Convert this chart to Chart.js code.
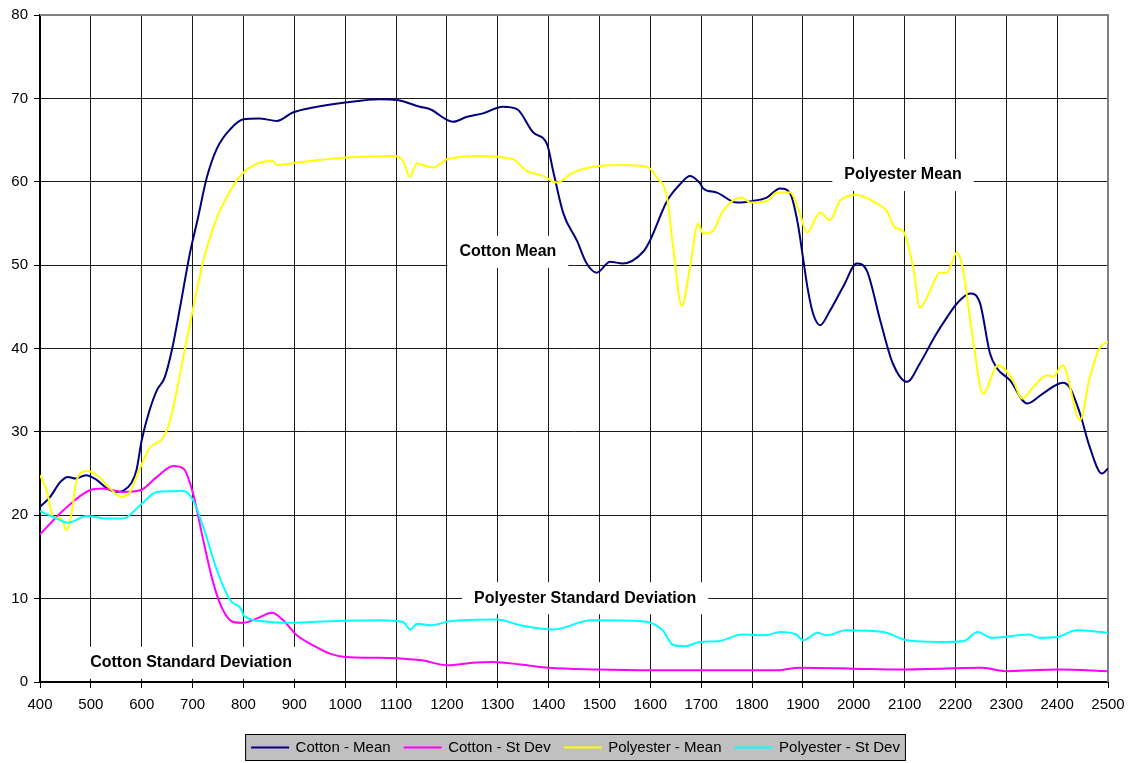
<!DOCTYPE html>
<html>
<head>
<meta charset="utf-8">
<style>
    html, body { margin: 0; padding: 0; background: #ffffff; }
    #wrap { width: 1135px; height: 763px; position: relative; }
</style>
<script src="https://cdn.jsdelivr.net/npm/chart.js@4/dist/chart.umd.min.js"></script>
</head>
<body>
<div id="wrap"><canvas id="spectraChart"></canvas></div>
<script>
// Reflectance spectra - cotton vs polyester (mean and standard deviation)

const seriesNames = ['Cotton - Mean', 'Cotton - St Dev', 'Polyester - Mean', 'Polyester - St Dev'];
const seriesColors = ['#000080', '#ff00ff', '#ffff00', '#00ffff'];

// wavelength (nm) / value pairs
const cottonMeanNm = [400, 420, 440, 455, 470, 490, 510, 530, 550, 565, 580, 590, 600, 615, 630, 645, 660, 675, 695, 710, 728, 748, 774, 800, 830, 866, 897, 937, 1000, 1068, 1102, 1147, 1167, 1212, 1240, 1271, 1310, 1338, 1370, 1397, 1409, 1429, 1456, 1475, 1495, 1521, 1546, 1586, 1599, 1633, 1660, 1678, 1698, 1704, 1731, 1770, 1802, 1829, 1855, 1875, 1890, 1900, 1910, 1920, 1934, 1953, 1980, 2006, 2026, 2052, 2077, 2105, 2130, 2160, 2183, 2203, 2229, 2248, 2268, 2282, 2307, 2341, 2372, 2411, 2425, 2445, 2464, 2488, 2500];
const cottonMean = [21.0, 22.2, 24.0, 24.6, 24.4, 24.8, 24.3, 23.3, 22.8, 23.0, 23.9, 25.5, 29.0, 32.5, 35.0, 36.5, 40.0, 44.8, 51.5, 55.5, 60.5, 64.0, 66.3, 67.5, 67.6, 67.3, 68.3, 68.9, 69.5, 69.9, 69.8, 69.0, 68.7, 67.2, 67.8, 68.2, 69.0, 68.7, 65.9, 64.5, 61.3, 56.2, 52.9, 50.2, 49.1, 50.4, 50.2, 51.6, 52.9, 57.7, 59.8, 60.7, 59.8, 59.2, 58.7, 57.5, 57.7, 58.1, 59.2, 58.6, 55.0, 51.0, 47.0, 44.2, 42.8, 44.5, 47.5, 50.2, 49.3, 43.4, 38.2, 36.0, 38.2, 41.5, 43.7, 45.4, 46.6, 45.5, 39.4, 37.6, 36.2, 33.4, 34.6, 35.9, 35.3, 32.2, 28.2, 25.0, 25.6];

const cottonSdNm = [400, 446, 498, 524, 563, 597, 630, 662, 682, 701, 721, 741, 760, 780, 800, 826, 856, 878, 905, 937, 970, 1000, 1068, 1114, 1151, 1202, 1250, 1290, 1345, 1401, 1494, 1600, 1697, 1850, 1892, 2000, 2086, 2253, 2299, 2401, 2500];
const cottonSd = [17.7, 20.6, 23.0, 23.2, 22.8, 23.0, 24.6, 25.9, 25.6, 22.6, 17.0, 11.8, 8.6, 7.2, 7.1, 7.6, 8.3, 7.4, 5.6, 4.4, 3.4, 3.0, 2.9, 2.8, 2.6, 2.0, 2.3, 2.4, 2.1, 1.7, 1.5, 1.4, 1.4, 1.4, 1.7, 1.6, 1.5, 1.7, 1.3, 1.5, 1.3];

const polyMeanNm = [400, 413, 426, 442, 452, 462, 472, 492, 512, 538, 560, 577, 597, 616, 642, 656, 669, 685, 701, 721, 748, 774, 800, 839, 858, 866, 905, 1003, 1094, 1114, 1127, 1141, 1173, 1200, 1265, 1330, 1357, 1389, 1416, 1448, 1488, 1541, 1594, 1613, 1633, 1645, 1662, 1678, 1694, 1704, 1723, 1743, 1780, 1796, 1829, 1849, 1875, 1894, 1908, 1934, 1953, 1973, 2006, 2045, 2065, 2081, 2097, 2117, 2130, 2150, 2169, 2183, 2203, 2214, 2234, 2254, 2284, 2313, 2331, 2352, 2380, 2392, 2411, 2445, 2464, 2484, 2500];
const polyMean = [24.8, 23.0, 19.8, 19.6, 18.2, 20.2, 24.2, 25.3, 24.8, 23.2, 22.2, 22.8, 25.7, 28.1, 29.3, 31.4, 35.0, 40.0, 44.8, 50.5, 55.7, 58.9, 61.1, 62.4, 62.5, 62.0, 62.3, 62.9, 63.1, 62.5, 60.6, 62.2, 61.7, 62.7, 63.1, 62.7, 61.3, 60.7, 59.9, 61.1, 61.8, 62.0, 61.8, 60.5, 58.1, 52.1, 45.1, 49.7, 55.0, 53.8, 54.1, 56.5, 58.1, 57.5, 57.7, 58.7, 58.7, 56.2, 53.9, 56.3, 55.4, 57.7, 58.4, 57.4, 56.5, 54.5, 54.1, 49.7, 44.9, 46.9, 49.1, 49.1, 51.5, 49.7, 41.3, 34.6, 38.0, 36.2, 34.0, 35.3, 36.8, 36.6, 38.0, 31.4, 36.5, 40.1, 40.8];

const polySdNm = [400, 433, 455, 492, 531, 563, 597, 630, 682, 701, 721, 748, 774, 797, 800, 839, 878, 970, 1068, 1114, 1128, 1142, 1169, 1206, 1299, 1345, 1410, 1484, 1586, 1623, 1646, 1669, 1697, 1734, 1781, 1827, 1855, 1887, 1901, 1929, 1947, 1984, 2058, 2104, 2169, 2216, 2244, 2271, 2345, 2364, 2401, 2438, 2500];
const polySd = [20.5, 19.6, 19.1, 19.9, 19.6, 19.6, 21.2, 22.8, 22.9, 21.8, 18.6, 13.4, 9.8, 8.6, 8.0, 7.3, 7.1, 7.3, 7.4, 7.2, 6.3, 7.0, 6.8, 7.3, 7.5, 6.8, 6.3, 7.4, 7.3, 6.3, 4.4, 4.3, 4.8, 4.9, 5.7, 5.6, 6.0, 5.7, 5.0, 5.9, 5.6, 6.2, 6.0, 5.0, 4.8, 4.9, 6.0, 5.3, 5.7, 5.3, 5.4, 6.2, 5.9];

// text labels placed on the plot: [text, wavelength, value]
const noteLabels = [
    ['Cotton Mean', 1320, 51.6],
    ['Polyester Mean', 2097, 60.8],
    ['Polyester Standard Deviation', 1472, 10.05],
    ['Cotton Standard Deviation', 697, 2.3]
];

const FONT = '"Liberation Sans", Arial, sans-serif';

function toPoints(xs, ys) {
    return xs.map((x, i) => ({ x: x, y: ys[i] }));
}

// plot frame (top/right grey edge), legend box and the white-backed notes
const decorPlugin = {
    id: 'decor',
    beforeInit(chart) {
        const legend = chart.legend;
        const origFit = legend.fit;
        legend.fit = function() {
            origFit.call(this);
            this.height = 37;
        };
    },
    afterLayout(chart) {
        // legend sits a little right of the plot centre
        chart.legend.left += 22;
        chart.legend.right += 22;
    },
    beforeDatasetsDraw(chart) {
        const { ctx, chartArea } = chart;
        ctx.save();
        ctx.strokeStyle = '#808080';
        ctx.lineWidth = 2;
        ctx.beginPath();
        ctx.moveTo(chartArea.left, chartArea.top);
        ctx.lineTo(chartArea.right, chartArea.top);
        ctx.lineTo(chartArea.right, chartArea.bottom);
        ctx.stroke();
        ctx.restore();
    },
    afterDatasetsDraw(chart) {
        const { ctx, scales } = chart;
        ctx.save();
        ctx.font = 'bold 16px ' + FONT;
        ctx.textAlign = 'center';
        ctx.textBaseline = 'middle';
        noteLabels.forEach(([text, nm, val]) => {
            const px = scales.x.getPixelForValue(nm);
            const py = scales.y.getPixelForValue(val);
            const w = ctx.measureText(text).width + 24;
            const h = 32;
            ctx.fillStyle = '#ffffff';
            ctx.fillRect(px - w / 2, py - h / 2, w, Math.min(h, scales.y.bottom - (py - h / 2) - 1));
            ctx.fillStyle = '#000000';
            ctx.fillText(text, px, py);
        });
        ctx.restore();
    },
    beforeDraw(chart) {
        const legend = chart.legend;
        if (!legend || !legend.legendHitBoxes || !legend.legendHitBoxes.length) return;
        const boxes = legend.legendHitBoxes;
        const left = Math.min(...boxes.map(b => b.left)) - 7;
        const right = Math.max(...boxes.map(b => b.left + b.width)) + 6;
        const top = Math.min(...boxes.map(b => b.top)) - 6;
        const bottom = Math.max(...boxes.map(b => b.top + b.height)) + 6;
        const ctx = chart.ctx;
        ctx.save();
        ctx.fillStyle = '#c0c0c0';
        ctx.fillRect(left, top, right - left, bottom - top);
        ctx.strokeStyle = '#000000';
        ctx.lineWidth = 1;
        ctx.strokeRect(left + 0.5, top + 0.5, right - left - 1, bottom - top - 1);
        ctx.restore();
    }
};

const datasets = [
    [cottonMeanNm, cottonMean, 4],
    [cottonSdNm, cottonSd, 3],
    [polyMeanNm, polyMean, 2],
    [polySdNm, polySd, 1]
].map(([xs, ys, order], i) => ({
    label: seriesNames[i],
    data: toPoints(xs, ys),
    borderColor: seriesColors[i],
    backgroundColor: seriesColors[i],
    borderWidth: 2,
    pointRadius: 0,
    cubicInterpolationMode: 'monotone',
    order: order
}));

const ctx = document.getElementById('spectraChart').getContext('2d');
new Chart(ctx, {
    type: 'line',
    data: { datasets: datasets },
    plugins: [decorPlugin],
    options: {
        responsive: true,
        maintainAspectRatio: false,
        animation: false,
        layout: { padding: { top: 14, right: 27, left: 0, bottom: 0 } },
        scales: {
            x: {
                type: 'linear',
                min: 400,
                max: 2500,
                afterFit: (scale) => { scale.height = 44; },
                ticks: {
                    stepSize: 100,
                    autoSkip: false,
                    maxRotation: 0,
                    color: '#000000',
                    padding: 8,
                    font: { family: FONT, size: 15 },
                    callback: (value) => String(value)
                },
                grid: { color: '#1a1a1a', lineWidth: 1, tickLength: 6, tickColor: '#000000' },
                border: { color: '#000000', width: 2 }
            },
            y: {
                min: 0,
                max: 80,
                afterFit: (scale) => { scale.width = 40; },
                ticks: {
                    stepSize: 10,
                    color: '#000000',
                    padding: 6,
                    font: { family: FONT, size: 15 }
                },
                grid: { color: '#1a1a1a', lineWidth: 1, tickLength: 6, tickColor: '#000000' },
                border: { color: '#000000', width: 2 }
            }
        },
        plugins: {
            legend: {
                position: 'bottom',
                labels: {
                    color: '#000000',
                    boxWidth: 36,
                    boxHeight: 0.01,
                    padding: 14,
                    font: { family: FONT, size: 15 },
                    sort: (a, b) => a.datasetIndex - b.datasetIndex
                }
            },
            tooltip: { enabled: false }
        }
    }
});
</script>
</body>
</html>
